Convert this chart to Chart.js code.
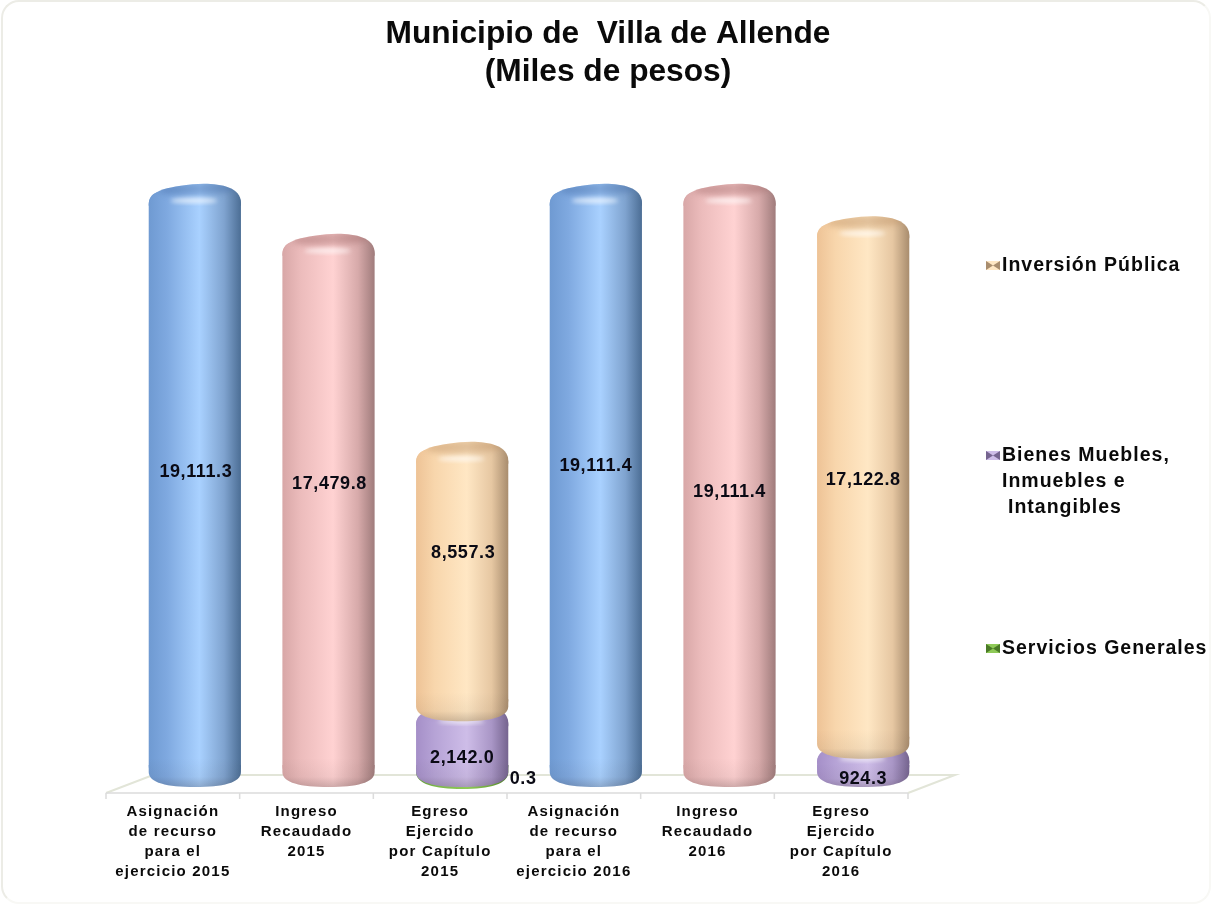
<!DOCTYPE html>
<html lang="es">
<head>
<meta charset="utf-8">
<title>Municipio de Villa de Allende</title>
<script src="https://cdn.jsdelivr.net/npm/chart.js@4"></script>
<style>
html,body{margin:0;padding:0;background:#fff;overflow:hidden}
#wrap{position:absolute;left:0;top:0;width:1212px;height:906px}
#frame{position:absolute;left:1px;top:0;width:1210px;height:904px;box-sizing:border-box;border:2px solid #ecece6;border-right-color:#f8f8f5;border-bottom-color:#f8f8f5;border-radius:18px}
canvas{position:absolute;left:0;top:0}
</style>
</head>
<body>
<div id="wrap"><div id="frame"></div><canvas id="c" width="1212" height="906"></canvas></div>
<script>
const categories = [
  ["Asignación","de recurso","para el","ejercicio 2015"],
  ["Ingreso","Recaudado","2015"],
  ["Egreso","Ejercido","por Capítulo","2015"],
  ["Asignación","de recurso","para el","ejercicio 2016"],
  ["Ingreso","Recaudado","2016"],
  ["Egreso","Ejercido","por Capítulo","2016"]
];
const asignacion = [19111.3, null, null, 19111.4, null, null];
const ingreso    = [null, 17479.8, null, null, 19111.4, null];
const servicios  = [null, null, 0.3, null, null, null];
const bienes     = [null, null, 2142.0, null, null, 924.3];
const inversion  = [null, null, 8557.3, null, null, 17122.8];
const titleLines = ["Municipio de  Villa de Allende","(Miles de pesos)"];

/* horizontal cylinder shading: left edge, highlight, right edge, top-face tint */
const shade = {
  blue:  {stops:["#6f9ad2","#7fa9e0","#a9d1ff","#7fa3cf","#4c6e95"], face:"rgba(60,100,160,.42)"},
  pink:  {stops:["#d8a7a7","#ecbcbc","#ffd2d2","#d7aaaa","#a07c7c"], face:"rgba(150,95,95,.42)"},
  beige: {stops:["#eec396","#f8d6ac","#ffe7c4","#e6c7a2","#a98d6e"], face:"rgba(175,130,85,.38)"},
  purple:{stops:["#a58fc8","#b6a3d6","#cebde8","#a996c6","#75648f"], face:"rgba(105,85,145,.4)"},
  green: {stops:["#5f9a32","#7ab648","#8fca58","#6ea53c","#4a7a26"], face:"rgba(60,100,30,.4)"}
};
const labelShift = {
  "0:0":[1,-13], "1:1":[1,-26], "4:2":[1,-28], "3:2":[0,13], "2:2":[61,1],
  "0:3":[0,-19], "1:4":[0,7],  "4:5":[0,-7],  "3:5":[0,15]
};
const legendItems = [
  {lines:["Inversión Pública"], y:266, indent:[0], key:"beige"},
  {lines:["Bienes Muebles,","Inmuebles e","Intangibles"], y:456, indent:[0,0,6], key:"purple"},
  {lines:["Servicios Generales"], y:649, indent:[0], key:"green"}
];

function barGrad(ctx, key){
  const c = ctx.chart;
  if(!c.chartArea || !c.scales.x) return shade[key].stops[2];
  const x = c.scales.x.getPixelForValue(ctx.dataIndex);
  const w = 46;
  const g = c.ctx.createLinearGradient(x-w,0,x+w,0);
  const s = shade[key].stops;
  g.addColorStop(0,s[0]); g.addColorStop(.2,s[1]); g.addColorStop(.55,s[2]); g.addColorStop(.82,s[3]); g.addColorStop(1,s[4]);
  return g;
}
function mkSet(label,data,key){
  return {label,data,key,stack:"s",
    backgroundColor:ctx=>barGrad(ctx,key),
    borderWidth:0,borderSkipped:false,
    borderRadius:{topLeft:12,topRight:12,bottomLeft:12,bottomRight:12},
    barPercentage:1,categoryPercentage:.69};
}

const cylinderPlugin = {
  id:"cylinder",
  afterDatasetsDraw(chart){
    const ctx = chart.ctx;
    chart.data.datasets.forEach((ds,di)=>{
    chart.getDatasetMeta(di).data.forEach((el,i)=>{
      if(ds.data[i]==null) return;
      const x=el.x, y=el.y, b=el.base, hw=el.width/2, fill=barGrad({chart,dataIndex:i},ds.key);
      ctx.save();
      const thin = Math.abs(b-y)<3;
      const d = thin?11:9;
      const bottomPath=(lim)=>{
        ctx.beginPath();
        ctx.moveTo(x-hw,lim);ctx.lineTo(x-hw,b-6);
        ctx.bezierCurveTo(x-hw,b+d*.55,x-hw*.6,b+d,x,b+d);
        ctx.bezierCurveTo(x+hw*.6,b+d,x+hw,b+d*.55,x+hw,b-6);
        ctx.lineTo(x+hw,lim);ctx.closePath();
      };
      /* bottom dome */
      bottomPath(b-13);
      ctx.fillStyle=fill; ctx.fill();
      if(!thin){
        /* darkening towards the lower rim */
        const lim=Math.max(y+14,b-20);
        bottomPath(lim);
        const v=ctx.createLinearGradient(0,lim,0,b+d);
        v.addColorStop(0,"rgba(40,30,30,0)");v.addColorStop(.65,"rgba(40,30,30,.05)");v.addColorStop(1,"rgba(40,30,30,.22)");
        ctx.fillStyle=v;ctx.fill();
        /* top dome */
        ctx.beginPath();
        ctx.moveTo(x-hw,y+13);
        ctx.bezierCurveTo(x-hw,y+2,x-hw*.8,y-4,x-hw*.05,y-7.5);
        ctx.bezierCurveTo(x+hw*.4,y-9.3,x+hw,y-7,x+hw,y+11);
        ctx.lineTo(x+hw,y+14);ctx.lineTo(x-hw,y+14);ctx.closePath();
        ctx.fillStyle=fill;ctx.fill();
        ctx.save();ctx.clip();
        ctx.filter="blur(3px)";
        ctx.beginPath();
        ctx.ellipse(x+3,y-3,hw*.85,6.5,-.04,0,Math.PI*2);
        ctx.fillStyle=shade[ds.key].face;ctx.fill();
        ctx.filter="blur(2px)";
        ctx.beginPath();
        ctx.ellipse(x-1,y+9,hw*.5,2.6,0,0,Math.PI*2);
        ctx.fillStyle="rgba(255,255,255,.65)";ctx.fill();
        ctx.restore();
      }
      ctx.restore();
    });
    });
  }
};

const floorPlugin = {
  id:"floor",
  beforeDatasetsDraw(chart){
    const ctx=chart.ctx, a=chart.chartArea;
    const shift=22, x0=a.left-shift, x1=a.right-shift, yf=a.bottom+15, yb=a.bottom-3, dx=47;
    ctx.save();
    ctx.strokeStyle="#e2e5d8";ctx.lineWidth=2;
    ctx.beginPath();ctx.moveTo(x0,yf);ctx.lineTo(x0+dx,yb);ctx.lineTo(x1+dx,yb);ctx.lineTo(x1,yf);ctx.stroke();
    ctx.strokeStyle="#dcdcdc";ctx.lineWidth=1.5;
    ctx.beginPath();ctx.moveTo(x0,yf);ctx.lineTo(x1,yf);
    const step=(x1-x0)/categories.length;
    for(let i=0;i<=categories.length;i++){ctx.moveTo(x0+i*step,yf);ctx.lineTo(x0+i*step,yf+6);}
    ctx.stroke();
    ctx.restore();
  }
};

const textPlugin = {
  id:"texts",
  beforeDraw(chart){
    const t=chart.titleBlock, ctx=chart.ctx;
    ctx.letterSpacing="1.2px";
    if(t && !t.__wrapped){
      const d=t.draw.bind(t);
      t.draw=()=>{ctx.letterSpacing="0px";d();ctx.letterSpacing="1.2px";};
      t.__wrapped=true;
    }
  },
  afterDraw(chart){
    const ctx=chart.ctx;
    ctx.save();
    /* value labels */
    ctx.letterSpacing="0.6px";
    ctx.font='bold 18px "Liberation Sans"';
    ctx.fillStyle="#0a0a14";ctx.textAlign="center";ctx.textBaseline="middle";
    chart.data.datasets.forEach((ds,di)=>{
      chart.getDatasetMeta(di).data.forEach((el,i)=>{
        const v=ds.data[i]; if(v==null) return;
        const sh=labelShift[di+":"+i]||[0,0];
        const txt=v.toLocaleString("en-US",{minimumFractionDigits:1,maximumFractionDigits:1});
        ctx.fillText(txt,el.x+sh[0],(el.y+el.base)/2+sh[1]);
      });
    });
    /* legend */
    ctx.letterSpacing="1px";
    ctx.font='bold 19.5px "Liberation Sans"';
    ctx.textAlign="left";
    legendItems.forEach(it=>{
      const s=shade[it.key].stops, mx=986, my=it.y-5, mw=14, mh=9;
      ctx.fillStyle=s[2];ctx.fillRect(mx,my,mw,mh);
      ctx.fillStyle=s[4];
      ctx.beginPath();ctx.moveTo(mx,my);ctx.lineTo(mx+mw/2,my+mh/2);ctx.lineTo(mx,my+mh);ctx.closePath();ctx.fill();
      ctx.beginPath();ctx.moveTo(mx+mw,my);ctx.lineTo(mx+mw/2,my+mh/2);ctx.lineTo(mx+mw,my+mh);ctx.closePath();ctx.fill();
      ctx.fillStyle="#0a0a0a";
      it.lines.forEach((ln,k)=>ctx.fillText(ln,1002+it.indent[k],it.y+k*26));
    });
    ctx.restore();
  }
};

new Chart(document.getElementById("c"),{
  type:"bar",
  data:{labels:categories,datasets:[
    mkSet("Asignación",asignacion,"blue"),
    mkSet("Ingreso",ingreso,"pink"),
    mkSet("Servicios Generales",servicios,"green"),
    mkSet("Bienes Muebles, Inmuebles e Intangibles",bienes,"purple"),
    mkSet("Inversión Pública",inversion,"beige")
  ]},
  plugins:[floorPlugin,cylinderPlugin,textPlugin],
  options:{
    responsive:false,animation:false,
    layout:{padding:{left:4,right:0,top:0,bottom:0}},
    scales:{
      x:{stacked:true,grid:{display:false},border:{display:false},
        ticks:{autoSkip:false,maxRotation:0,minRotation:0,padding:16,labelOffset:-22,color:"#0a0a0a",
          font:{family:'"Liberation Sans"',size:15,weight:"bold",lineHeight:1.33}},
        afterFit(s){s.height=128;}},
      y:{stacked:true,position:"left",min:0,max:20000,
        grid:{display:false},border:{display:false},ticks:{display:false},
        afterFit(s){s.width=124;}},
      y2:{position:"right",min:0,max:20000,
        grid:{display:false},border:{display:false},ticks:{display:false},
        afterFit(s){s.width=282;}}
    },
    plugins:{
      legend:{display:false},
      tooltip:{enabled:false},
      title:{display:true,text:titleLines,color:"#0a0a0a",padding:{top:16,bottom:73.6},
        font:{family:'"Liberation Sans"',size:31.7,weight:"bold",lineHeight:1.18}}
    }
  }
});
</script>
</body>
</html>
